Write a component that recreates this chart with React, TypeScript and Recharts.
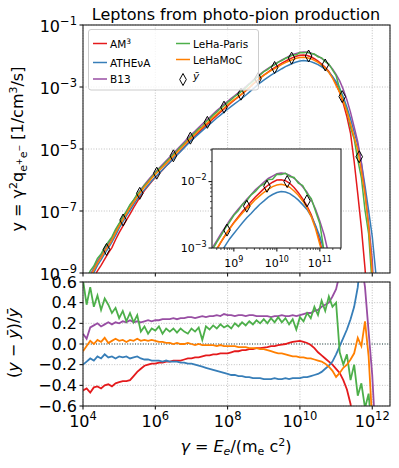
import React from 'react'
import { ComposedChart, LineChart, Line, XAxis, YAxis, CartesianGrid, ReferenceLine } from 'recharts'

const FONT = '"DejaVu Sans", sans-serif'

// log10(gamma) sampling grid shared by all series
const logGamma = [
  4.0, 4.1, 4.2, 4.3, 4.4, 4.5, 4.6, 4.7, 4.8, 4.9,
  5.0, 5.1, 5.2, 5.3, 5.4, 5.5, 5.6, 5.7, 5.8, 5.9,
  6.0, 6.1, 6.2, 6.3, 6.4, 6.5, 6.6, 6.7, 6.8, 6.9,
  7.0, 7.1, 7.2, 7.3, 7.4, 7.5, 7.6, 7.7, 7.8, 7.9,
  8.0, 8.1, 8.2, 8.3, 8.4, 8.5, 8.6, 8.7, 8.8, 8.9,
  9.0, 9.1, 9.2, 9.3, 9.4, 9.5, 9.6, 9.7, 9.8, 9.9,
  10.0, 10.1, 10.2, 10.3, 10.4, 10.5, 10.6, 10.7, 10.8, 10.9,
  11.0, 11.1, 11.2, 11.3, 11.4, 11.5, 11.6, 11.7, 11.8, 11.9,
  12.0, 12.1, 12.2,
]

// log10 of the mean spectrum y-bar on that grid
const yBarLog = [
  -9.55, -9.33, -9.12, -8.91, -8.70, -8.51, -8.33, -8.14, -7.95, -7.72,
  -7.50, -7.30, -7.10, -6.91, -6.73, -6.56, -6.39, -6.24, -6.10, -5.96,
  -5.83, -5.71, -5.59, -5.47, -5.35, -5.23, -5.11, -4.99, -4.87, -4.75,
  -4.63, -4.52, -4.41, -4.30, -4.19, -4.09, -3.98, -3.87, -3.77, -3.67,
  -3.57, -3.47, -3.38, -3.29, -3.20, -3.10, -3.00, -2.89, -2.79, -2.69,
  -2.60, -2.52, -2.44, -2.37, -2.30, -2.23, -2.17, -2.11, -2.06, -2.02,
  -1.99, -1.98, -1.99, -2.02, -2.07, -2.13, -2.21, -2.30, -2.42, -2.58,
  -2.78, -3.03, -3.35, -3.71, -4.12, -4.58, -5.05, -5.72, -6.55, -7.45,
  -8.40, -9.70, -11.0,
]

// relative deviation (y - ybar)/ybar of each code
const residAM3 = [
  -0.45, -0.43, -0.47, -0.42, -0.41, -0.43, -0.40, -0.39, -0.41, -0.38,
  -0.37, -0.36, -0.36, -0.35, -0.31, -0.27, -0.24, -0.21, -0.20, -0.19,
  -0.19, -0.18, -0.18, -0.17, -0.17, -0.16, -0.16, -0.16, -0.15, -0.14,
  -0.14, -0.13, -0.13, -0.12, -0.11, -0.11, -0.10, -0.10, -0.09, -0.09,
  -0.09, -0.08, -0.07, -0.07, -0.06, -0.06, -0.05, -0.05, -0.04, -0.04,
  -0.035, -0.03, -0.02, -0.02, -0.01, -0.005, 0.0, 0.01, 0.02, 0.025,
  0.03, 0.02, 0.01, -0.01, -0.04, -0.08, -0.11, -0.14, -0.17, -0.20,
  -0.24, -0.28, -0.35, -0.44, -0.58, -0.85, -0.96, -0.985, -0.995, -0.999,
  null, null, null,
]
const residATHENA = [
  -0.20, -0.17, -0.14, -0.16, -0.12, -0.14, -0.10, -0.13, -0.12, -0.14,
  -0.12, -0.13, -0.12, -0.14, -0.13, -0.12, -0.14, -0.15, -0.15, -0.16,
  -0.16, -0.16, -0.17, -0.16, -0.17, -0.17, -0.17, -0.18, -0.18, -0.19,
  -0.19, -0.20, -0.21, -0.22, -0.23, -0.24, -0.25, -0.26, -0.27, -0.28,
  -0.29, -0.30, -0.30, -0.31, -0.31, -0.32, -0.32, -0.33, -0.33, -0.33,
  -0.34, -0.34, -0.34, -0.33, -0.34, -0.34, -0.33, -0.34, -0.33, -0.33,
  -0.33, -0.32, -0.32, -0.31, -0.30, -0.29, -0.27, -0.24, -0.21, -0.17,
  -0.10, -0.02, 0.06, 0.14, 0.24, 0.36, 0.55, 0.90, 1.30, 1.90,
  2.80, 3.80, 4.00,
]
const residB13 = [
  0.10, 0.05, 0.16, 0.18, 0.20, 0.17, 0.19, 0.21, 0.19, 0.21,
  0.20, 0.22, 0.21, 0.23, 0.21, 0.22, 0.21, 0.22, 0.23, 0.22,
  0.23, 0.23, 0.24, 0.24, 0.24, 0.25, 0.24, 0.25, 0.25, 0.26,
  0.26, 0.25, 0.26, 0.27, 0.26, 0.27, 0.27, 0.28, 0.27, 0.29,
  0.28, 0.28, 0.27, 0.28, 0.28, 0.27, 0.28, 0.28, 0.27, 0.27,
  0.27, 0.27, 0.26, 0.27, 0.27, 0.28, 0.27, 0.27, 0.28, 0.27,
  0.28, 0.29, 0.30, 0.30, 0.32, 0.33, 0.36, 0.38, 0.40, 0.46,
  0.53, 0.68, 0.85, 0.95, 1.00, 0.95, 0.90, 0.80, 0.55, 0.12,
  -0.30, -0.95, null,
]
const residLeHaParis = [
  0.62, 0.38, 0.55, 0.36, 0.47, 0.33, 0.44, 0.38, 0.30, 0.35,
  0.25, 0.32, 0.22, 0.30, 0.21, 0.28, 0.12, 0.17, 0.10, 0.15,
  0.13, 0.17, 0.10, 0.15, 0.12, 0.15, 0.11, 0.15, 0.12, 0.10,
  0.15, 0.12, 0.16, 0.04, 0.17, 0.14, 0.18, 0.15, 0.19, 0.16,
  0.18, 0.15, 0.20, 0.17, 0.21, 0.18, 0.22, 0.19, 0.23, 0.20,
  0.24, 0.20, 0.25, 0.21, 0.26, 0.21, 0.25, 0.19, 0.24, 0.14,
  0.26, 0.22, 0.30, 0.25, 0.36, 0.28, 0.42, 0.32, 0.46, 0.36,
  0.40, -0.08, -0.20, -0.10, -0.35, -0.20, -0.50, -0.38, -0.62, -0.48,
  -0.90, null, null,
]
const residLeHaMoC = [
  -0.07, -0.02, 0.03, 0.00, 0.04, 0.02, 0.06, 0.01, 0.03, 0.05,
  0.03, 0.04, 0.02, 0.04, 0.03, 0.05, 0.03, 0.04, 0.03, 0.04,
  0.03, 0.02, 0.02, 0.01, 0.01, 0.00, 0.01, 0.00, 0.00, 0.01,
  0.00, -0.01, 0.00, -0.01, -0.01, -0.01, -0.01, -0.02, -0.01, -0.02,
  -0.02, -0.02, -0.02, -0.03, -0.03, -0.03, -0.04, -0.04, -0.04, -0.05,
  -0.05, -0.06, -0.07, -0.08, -0.09, -0.09, -0.10, -0.11, -0.12, -0.12,
  -0.13, -0.13, -0.14, -0.14, -0.15, -0.16, -0.17, -0.19, -0.22, -0.26,
  -0.32, -0.28, -0.23, -0.20, -0.15, -0.09, 0.06, -0.02, 0.22, -0.12,
  -0.75, -0.98, null,
]

// y-bar markers (log10 gamma, log10 y)
const diamondLogGamma = [4.65, 5.11, 5.57, 6.04, 6.50, 6.97, 7.44, 7.90, 8.37, 8.84, 9.30, 9.77, 10.24, 10.70, 11.17, 11.64]
const diamondLogY = [-8.24, -7.29, -6.43, -5.78, -5.22, -4.65, -4.14, -3.65, -3.23, -2.73, -2.37, -2.07, -2.00, -2.29, -3.31, -5.25]

const xTicks = [1e4, 1e6, 1e8, 1e10, 1e12]
const yTicksTop = [1e-9, 1e-7, 1e-5, 1e-3, 1e-1]
const yTicksResid = [-0.6, -0.4, -0.2, 0, 0.2, 0.4, 0.6]
const insetXTicks = [
  4e8, 5e8, 6e8, 7e8, 8e8, 9e8, 1e9, 2e9, 3e9, 4e9, 5e9, 6e9, 7e9, 8e9, 9e9,
  1e10, 2e10, 3e10, 4e10, 5e10, 6e10, 7e10, 8e10, 9e10, 1e11, 2e11, 3e11,
]
const insetYTicks = [1e-3, 2e-3, 3e-3, 4e-3, 5e-3, 6e-3, 7e-3, 8e-3, 9e-3, 1e-2, 2e-2, 3e-2]

const X_DOMAIN = [1e4, 3.1e12]
const INSET_X = [3.1e8, 3.1e11]
const INSET_Y = [1e-3, 3.1e-2]

const models = [
  { key: 'am3', color: '#e41a1c', resid: residAM3 },
  { key: 'athena', color: '#377eb8', resid: residATHENA },
  { key: 'b13', color: '#984ea3', resid: residB13 },
  { key: 'paris', color: '#4daf4a', resid: residLeHaParis },
  { key: 'lehamoc', color: '#ff7f00', resid: residLeHaMoC },
]

const rows = logGamma.map((lg, i) => {
  const yBar = Math.pow(10, yBarLog[i])
  const row: Record<string, number | null> = { g: Math.pow(10, lg) }
  for (const m of models) {
    const r = m.resid[i]
    row[m.key] = r == null ? null : yBar * (1 + r)
    row[m.key + 'R'] = r
  }
  return row
})

const diamonds = diamondLogGamma.map((lg, i) => ({ g: Math.pow(10, lg), y: Math.pow(10, diamondLogY[i]) }))
const insetDiamonds = diamonds.filter(
  d => d.g >= INSET_X[0] && d.g <= INSET_X[1] && d.y >= INSET_Y[0] && d.y <= INSET_Y[1]
)

const expText = (v: number) => {
  const e = Math.round(Math.log10(v))
  return e < 0 ? '\u2212' + -e : String(e)
}
const isDecade = (v: number) => Math.abs(Math.log10(v) - Math.round(Math.log10(v))) < 1e-6

const renderDiamond = (p: any) => {
  const { cx, cy, index } = p
  if (cx == null || cy == null) return <g key={index} />
  return (
    <path
      key={index}
      d={`M${cx},${cy - 6}L${cx + 3.3},${cy}L${cx},${cy + 6}L${cx - 3.3},${cy}Z`}
      fill="none"
      stroke="#000"
      strokeWidth={1}
    />
  )
}

// axis ticks: Recharts hands us the axis line position (tickSize/tickMargin = 0)
const TopXTick = ({ x, y }: any) => <line x1={x} x2={x} y1={y} y2={y + 3.5} stroke="#000" />

const TopYTick = ({ x, y, payload }: any) => (
  <g>
    <line x1={x - 3.5} x2={x} y1={y} y2={y} stroke="#000" />
    <text x={x - 6} y={y + 6.5} textAnchor="end" fontSize={16} fontFamily={FONT} fill="#000">
      <tspan>10</tspan>
      <tspan dy={-7} fontSize={11.5}>{expText(payload.value)}</tspan>
    </text>
  </g>
)

const BottomXTick = ({ x, y, payload }: any) => (
  <g>
    <line x1={x} x2={x} y1={y} y2={y + 3.5} stroke="#000" />
    <text x={x} y={y + 21} textAnchor="middle" fontSize={16} fontFamily={FONT} fill="#000">
      <tspan>10</tspan>
      <tspan dy={-7} fontSize={11.5}>{expText(payload.value)}</tspan>
    </text>
  </g>
)

const ResidYTick = ({ x, y, payload }: any) => (
  <g>
    <line x1={x - 3.5} x2={x} y1={y} y2={y} stroke="#000" />
    <text x={x - 6} y={y + 5.5} textAnchor="end" fontSize={16} fontFamily={FONT} fill="#000">
      {payload.value.toFixed(1).replace('-', '\u2212')}
    </text>
  </g>
)

const InsetXTick = ({ x, y, payload }: any) => {
  const major = isDecade(payload.value)
  return (
    <g>
      <line x1={x} x2={x} y1={y} y2={y + (major ? 3.5 : 2)} stroke="#000" strokeWidth={major ? 1 : 0.7} />
      {major && (
        <text x={x} y={y + 18.5} textAnchor="middle" fontSize={11} fontFamily={FONT} fill="#000">
          <tspan>10</tspan>
          <tspan dy={-5} fontSize={8}>{expText(payload.value)}</tspan>
        </text>
      )}
    </g>
  )
}

const InsetYTick = ({ x, y, payload }: any) => {
  const major = isDecade(payload.value)
  return (
    <g>
      <line x1={x - (major ? 3.5 : 2)} x2={x} y1={y} y2={y} stroke="#000" strokeWidth={major ? 1 : 0.7} />
      {major && (
        <text x={x - 5.5} y={y + 3.5} textAnchor="end" fontSize={11} fontFamily={FONT} fill="#000">
          <tspan>10</tspan>
          <tspan dy={-5} fontSize={8}>{expText(payload.value)}</tspan>
        </text>
      )}
    </g>
  )
}

// axes get a 1px box so Recharts still renders them; ticks are drawn by the components above
const axisCommon = {
  allowDataOverflow: true,
  interval: 0 as const,
  tickSize: 0,
  tickMargin: 0,
  tickLine: false,
  axisLine: false,
}

const legendRows = [
  { color: '#e41a1c', x: 93, y: 43.5, label: <><tspan>AM</tspan><tspan dy={-4} fontSize={7.5}>3</tspan></>, ty: 48 },
  { color: '#377eb8', x: 93, y: 62.5, label: <tspan>ATHEνA</tspan>, ty: 67 },
  { color: '#984ea3', x: 93, y: 79, label: <tspan>B13</tspan>, ty: 83 },
  { color: '#4daf4a', x: 176, y: 43.5, label: <tspan>LeHa-Paris</tspan>, ty: 47.5 },
  { color: '#ff7f00', x: 176, y: 59.5, label: <tspan>LeHaMoC</tspan>, ty: 63.5 },
]

export default function App() {
  return (
    <div style={{ position: 'absolute', left: 0, top: 0, width: 399, height: 468, background: '#fff', fontFamily: FONT }}>
      {/* spectra */}
      <div style={{ position: 'absolute', left: 0, top: 0 }}>
        <ComposedChart width={399} height={290} data={rows} margin={{ top: 25, right: 9, bottom: 16, left: 82 }}>
          <CartesianGrid stroke="#b0b0b0" strokeDasharray="1 1.6" strokeWidth={0.8} />
          <XAxis dataKey="g" type="number" scale="log" domain={X_DOMAIN} ticks={xTicks} height={1} tick={<TopXTick />} {...axisCommon} />
          <YAxis type="number" scale="log" domain={[1e-9, 1e-1]} ticks={yTicksTop} width={1} tick={<TopYTick />} {...axisCommon} />
          {models.map(m => (
            <Line key={m.key} type="linear" dataKey={m.key} stroke={m.color} strokeWidth={1.5} dot={false} activeDot={false} isAnimationActive={false} />
          ))}
          <Line data={diamonds} dataKey="y" stroke="none" dot={renderDiamond} activeDot={false} isAnimationActive={false} />
        </ComposedChart>
      </div>

      {/* residuals */}
      <div style={{ position: 'absolute', left: 0, top: 270 }}>
        <LineChart width={399} height={198} data={rows} margin={{ top: 12, right: 9, bottom: 61, left: 82 }}>
          <CartesianGrid stroke="#b0b0b0" strokeDasharray="1 1.6" strokeWidth={0.8} />
          <XAxis dataKey="g" type="number" scale="log" domain={X_DOMAIN} ticks={xTicks} height={1} tick={<BottomXTick />} {...axisCommon} />
          <YAxis type="number" domain={[-0.6, 0.6]} ticks={yTicksResid} width={1} tick={<ResidYTick />} {...axisCommon} />
          <ReferenceLine y={0} stroke="#2f4f4f" strokeDasharray="1 1.6" strokeWidth={1} />
          {models.map(m => (
            <Line key={m.key} type="linear" dataKey={m.key + 'R'} stroke={m.color} strokeWidth={1.8} dot={false} activeDot={false} isAnimationActive={false} />
          ))}
        </LineChart>
      </div>

      {/* inset zoom on the peak */}
      <div style={{ position: 'absolute', left: 212, top: 149, width: 129, height: 99, background: '#fff' }} />
      <div style={{ position: 'absolute', left: 170, top: 140 }}>
        <LineChart width={180} height={135} data={rows} margin={{ top: 9, right: 9, bottom: 26, left: 41 }}>
          <XAxis dataKey="g" type="number" scale="log" domain={INSET_X} ticks={insetXTicks} height={1} tick={<InsetXTick />} {...axisCommon} />
          <YAxis type="number" scale="log" domain={INSET_Y} ticks={insetYTicks} width={1} tick={<InsetYTick />} {...axisCommon} />
          {models.map(m => (
            <Line key={m.key} type="linear" dataKey={m.key} stroke={m.color} strokeWidth={1.5} dot={false} activeDot={false} isAnimationActive={false} />
          ))}
          <Line data={insetDiamonds} dataKey="y" stroke="none" dot={renderDiamond} activeDot={false} isAnimationActive={false} />
        </LineChart>
      </div>

      {/* frames, labels, legend */}
      <svg width={399} height={468} style={{ position: 'absolute', left: 0, top: 0, pointerEvents: 'none' }} fontFamily={FONT}>
        <rect x={83} y={25} width={307} height={248} fill="none" stroke="#222" strokeWidth={1.1} />
        <rect x={83} y={282} width={307} height={124} fill="none" stroke="#222" strokeWidth={1.1} />
        <rect x={212} y={149} width={129} height={99} fill="none" stroke="#222" strokeWidth={1.1} />

        <text x={236} y={20} textAnchor="middle" fontSize={16} fill="#000">Leptons from photo-pion production</text>

        <text transform="translate(23,149) rotate(-90)" textAnchor="middle" fontSize={16} fill="#000">
          <tspan>y = γ</tspan>
          <tspan dy={-6} fontSize={11}>2</tspan>
          <tspan dy={6}>q</tspan>
          <tspan dy={4} fontSize={11}>e</tspan>
          <tspan dy={-5} fontSize={8}>+</tspan>
          <tspan dy={5} fontSize={11}>e</tspan>
          <tspan dy={-5} fontSize={8}>−</tspan>
          <tspan dy={1}>{'  [1/cm'}</tspan>
          <tspan dy={-6} fontSize={11}>3</tspan>
          <tspan dy={6}>/s]</tspan>
        </text>

        <text transform="translate(19,343) rotate(-90)" textAnchor="middle" fontSize={16} fill="#000">
          <tspan>(</tspan>
          <tspan fontStyle="italic">y</tspan>
          <tspan> − </tspan>
          <tspan fontStyle="italic">ȳ</tspan>
          <tspan>)/</tspan>
          <tspan fontStyle="italic">ȳ</tspan>
        </text>

        <text x={236} y={452} textAnchor="middle" fontSize={16} fill="#000">
          <tspan fontStyle="italic">γ</tspan>
          <tspan> = </tspan>
          <tspan fontStyle="italic">E</tspan>
          <tspan dy={3} fontSize={11} fontStyle="italic">e</tspan>
          <tspan dy={-3}>/(m</tspan>
          <tspan dy={3} fontSize={11}>e</tspan>
          <tspan dy={-3}> c</tspan>
          <tspan dy={-6} fontSize={11}>2</tspan>
          <tspan dy={6}>)</tspan>
        </text>

        <rect x={88.5} y={29.5} width={170} height={60.5} rx={2.5} fill="#fff" fillOpacity={0.8} stroke="#cccccc" />
        {legendRows.map((r, i) => (
          <g key={i}>
            <line x1={r.x} x2={r.x + 14} y1={r.y} y2={r.y} stroke={r.color} strokeWidth={1.5} />
            <text x={r.x + 17} y={r.ty} fontSize={10.5} fill="#000">{r.label}</text>
          </g>
        ))}
        <path d="M183,73.5L186.3,79.5L183,85.5L179.7,79.5Z" fill="none" stroke="#000" strokeWidth={1} />
        <text x={193} y={80} fontSize={10.5} fontStyle="italic" fill="#000">ȳ</text>
      </svg>
    </div>
  )
}
